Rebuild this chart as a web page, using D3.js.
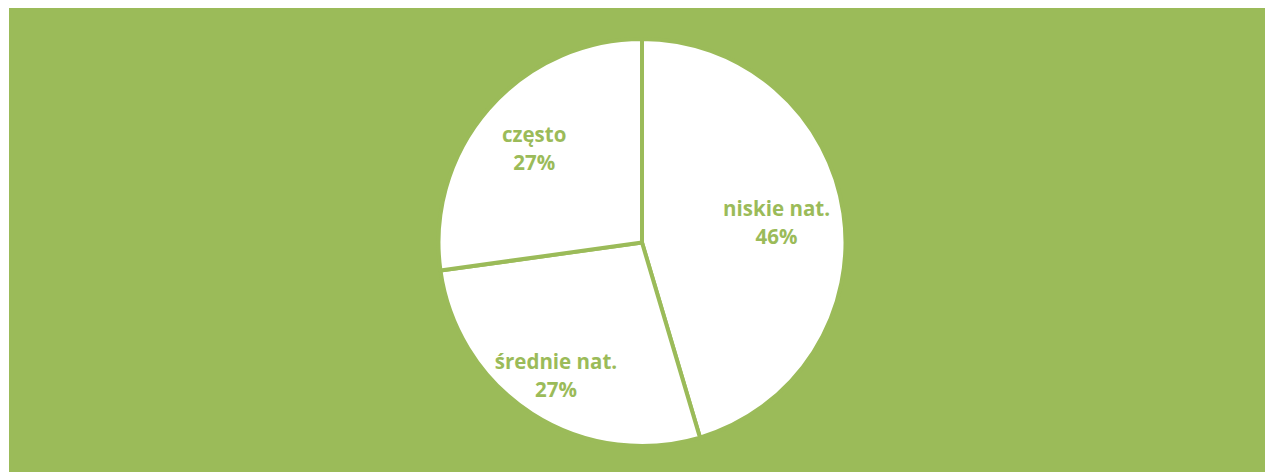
<!DOCTYPE html>
<html><head><meta charset="utf-8">
<script src="https://cdn.jsdelivr.net/npm/d3@7"></script>
<style>html,body{margin:0;padding:0;background:#fff;}</style>
</head><body>
<script>
const categories = ["niskie nat.", "średnie nat.", "często"];
const values = [45.4, 27.4, 27.2];
const pctLabels = ["46%", "27%", "27%"];

const W = 1265, H = 472;
const green = "#9BBB59";
const svg = d3.select("body").append("svg").attr("width", W).attr("height", H);
svg.append("rect").attr("x", 9).attr("y", 8).attr("width", W - 9).attr("height", H - 8).attr("fill", green);

const cx = 642, cy = 242.5, R = 203.5;
const g = svg.append("g").attr("transform", `translate(${cx},${cy})`);
const pie = d3.pie().sort(null).value(d => d)(values);
const arc = d3.arc().innerRadius(0).outerRadius(R);
g.selectAll("path").data(pie).join("path")
  .attr("d", arc).attr("fill", "#fff")
  .attr("stroke", green).attr("stroke-width", 4).attr("stroke-linejoin", "round");

const labelR = [136, 159, 143];
pie.forEach((p, i) => {
  const a = (p.startAngle + p.endAngle) / 2;
  const x = labelR[i] * Math.sin(a), y = -labelR[i] * Math.cos(a);
  const t = g.append("text").attr("text-anchor", "middle")
    .attr("font-family", "'Open Sans', sans-serif").attr("font-weight", "bold")
    .attr("font-size", 20.5).attr("fill", green);
  t.append("tspan").attr("x", x).attr("y", y - 7).text(categories[i]);
  t.append("tspan").attr("x", x).attr("y", y + 21).text(pctLabels[i]);
});
</script>
</body></html>
